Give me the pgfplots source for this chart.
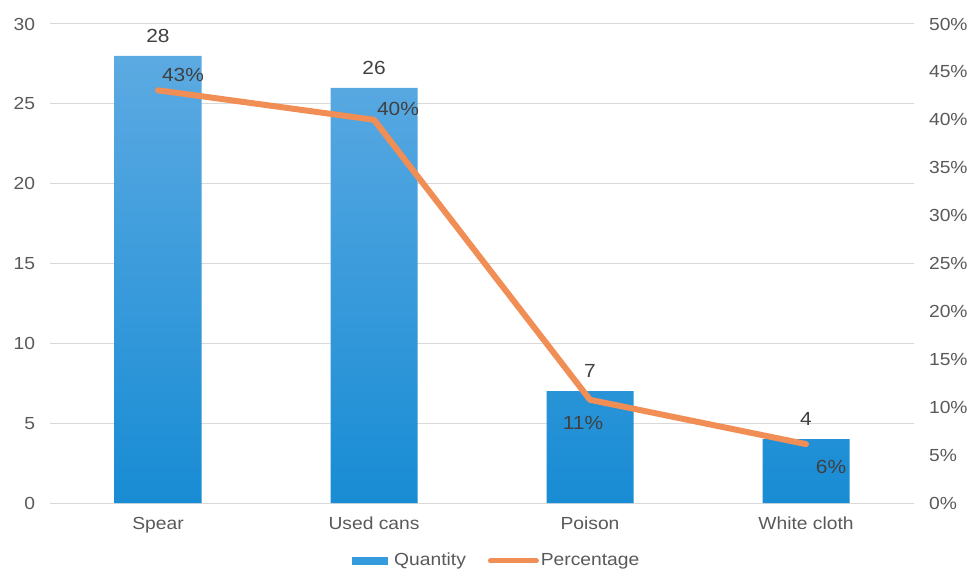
\documentclass[border=0pt]{standalone}
\usepackage{pgfplots}
\usepackage{pgfplotstable}
\pgfplotsset{compat=1.18}
\usepackage{fontspec}
\setmainfont{Liberation Sans}[FakeStretch=1.1]
\definecolor{txt}{RGB}{89,89,89}
\definecolor{lbl}{RGB}{64,64,64}
\definecolor{gridc}{RGB}{217,217,217}
\definecolor{bartop}{RGB}{92,170,226}
\definecolor{barbot}{RGB}{24,140,212}
\definecolor{barmid}{RGB}{52,155,220}
\definecolor{lineor}{RGB}{241,142,86}

\pgfplotstableread{
x q
0 28
1 26
2 7
3 4
}\qtab

\pgfplotstableread{
x p lab dx dy
0 43.08 43 25 15
1 40.00 40 24 11
2 10.77 11 -7 -23
3 6.15 6 25 -23
}\ptab

\begin{document}
\fontsize{17.5}{20}\selectfont
\begin{tikzpicture}
\begin{axis}[
  scale only axis, width=864pt, height=479pt,
  xmin=-0.5, xmax=3.5, ymin=0, ymax=30,
  xtick={0,1,2,3}, xticklabels={Spear,Used cans,Poison,White cloth},
  ytick={0,5,...,30},
  axis line style={draw=none},
  major tick length=0pt,
  ymajorgrids, grid style={draw=gridc, line width=1pt},
  tick label style={font=\fontsize{17.5}{20}\selectfont, text=txt},
  yticklabel style={xshift=-9pt},
  xticklabel style={yshift=-8pt},
  /pgf/number format/assume math mode=true,
  clip=false,
]
\coordinate (sw) at (rel axis cs:0,0);
\coordinate (ne) at (rel axis cs:1,1);
\addplot[ybar, bar width=87pt, bar shift=0pt, draw=none,
  top color=bartop, bottom color=barbot,
  nodes near coords,
  every node near coord/.append style={anchor=center, yshift=20pt, text=lbl,
     font=\fontsize{19}{22}\selectfont, /pgf/number format/assume math mode=true}]
  table[x=x, y=q] {\qtab};
\end{axis}
\begin{axis}[
  scale only axis, width=864pt, height=479pt,
  xmin=-0.5, xmax=3.5, ymin=0, ymax=50,
  xtick=\empty,
  ytick={0,5,...,50},
  yticklabel pos=right,
  yticklabel={\pgfmathprintnumber{\tick}\%},
  axis line style={draw=none},
  major tick length=0pt,
  tick label style={font=\fontsize{17.5}{20}\selectfont, text=txt},
  yticklabel style={xshift=9pt},
  /pgf/number format/assume math mode=true,
  clip=false,
  legend columns=2,
  legend style={at={(0.517,-0.121)}, anchor=center, draw=none, fill=none,
    font=\fontsize{17.5}{20}\selectfont, text=txt,
    nodes={inner sep=2pt},
    /tikz/every even column/.append style={column sep=20pt}},
  legend cell align=left,
]
\addlegendimage{legend image code/.code={\fill[barmid] (0pt,-3.5pt) rectangle (35pt,3.5pt); \path[draw=none,fill=none] (35pt,0pt) -- (40pt,0pt);}}
\addlegendentry{Quantity}
\addplot[lineor, line width=6pt, line cap=round, line join=round,
  point meta=explicit symbolic,
  visualization depends on={\thisrow{dx}\as\dx},
  visualization depends on={\thisrow{dy}\as\dy},
  nodes near coords={\pgfplotspointmeta\%},
  every node near coord/.append style={anchor=center, xshift=\dx pt, yshift=\dy pt,
     text=lbl, font=\fontsize{19}{22}\selectfont},
  legend image code/.code={\draw[lineor, line width=5pt] (0pt,0pt) -- (46pt,0pt);}]
  table[x=x, y=p, meta=lab] {\ptab};
\addlegendentry{Percentage}
\end{axis}
\pgfresetboundingbox
\path[use as bounding box] ([shift={(-50pt,-69pt)}]sw) rectangle ([shift={(58pt,24pt)}]ne);
\end{tikzpicture}
\end{document}
